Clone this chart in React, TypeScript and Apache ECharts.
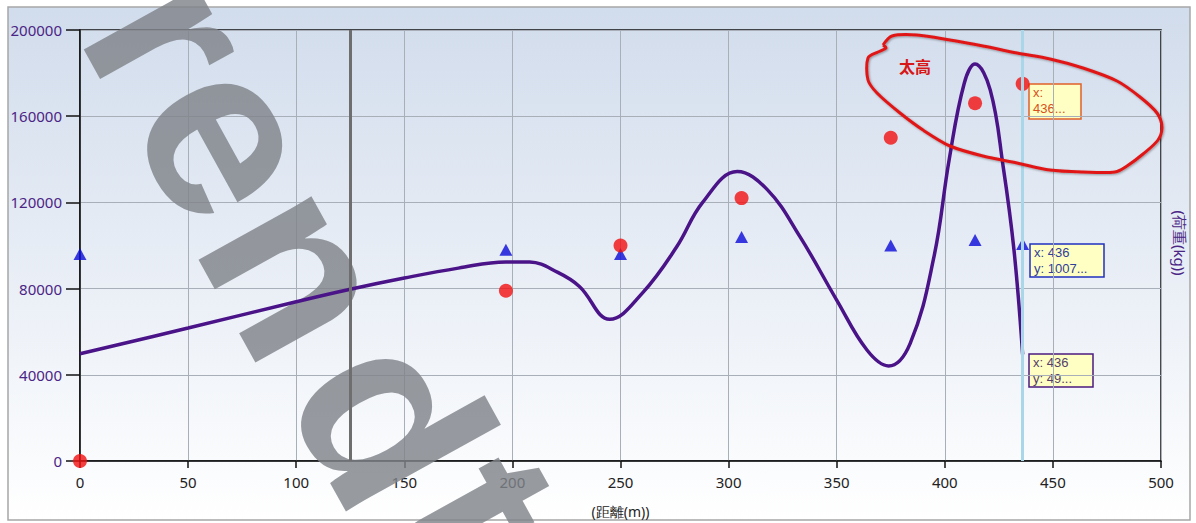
import React, { useEffect, useRef } from "react";
import * as echarts from "echarts";

// ---- data ----
const measuredX = [0, 197, 250, 306, 375, 414, 436];
const measuredY = [0, 79000, 100000, 122000, 150000, 166000, 175000];
const referenceX = [0, 197, 250, 306, 375, 414, 436];
const referenceY = [96000, 98000, 96000, 104000, 100000, 102500, 100700];
const curveX = [0, 50, 100, 125, 150, 175, 197, 208, 221, 231, 245, 260, 276, 288, 304, 318, 333, 350, 364, 374, 384, 395, 402, 409, 414, 421, 427, 432, 436];
const curveY = [49800, 61700, 73900, 79700, 84900, 89500, 92400, 92300, 87500, 81000, 65750, 77800, 99400, 120000, 134300, 125800, 104100, 74700, 51500, 44100, 54600, 94800, 139700, 175300, 184200, 172200, 136600, 97900, 49500];
const markerLineX = [125];
const cursorLineX = [436];
const xTickInterval = 50;
const yTickInterval = 40000;
const xName = "(距離(m))";
const yName = "(荷重(kg))";
const noteText = "太高";
const tipRed = ["x:", "436..."];
const tipBlue = ["x: 436", "y: 1007..."];
const tipPurple = ["x: 436", "y: 49..."];
const watermarkLetters = ["r", "e", "n", "d", "t"];

const FONT = "Noto Sans";

function tipBox(x: number, y: number, w: number, h: number, lines: string[], border: string, color: string) {
  return {
    type: "group",
    x,
    y,
    z: 30,
    children: [
      { type: "rect", shape: { x: 0, y: 0, width: w, height: h }, style: { fill: "#ffffc4", stroke: border, lineWidth: 1.5 } },
      ...lines.map((t, i) => ({
        type: "text",
        x: 4,
        y: 2 + i * 16,
        style: { text: t, fill: color, fontFamily: "Liberation Sans", fontSize: 13, textVerticalAlign: "top" },
      })),
    ],
  };
}

export default function App() {
  const ref = useRef<HTMLDivElement>(null);
  useEffect(() => {
    if (!ref.current) return;
    const chart = echarts.init(ref.current, undefined, { renderer: "svg" });
    const ellipsePts = [
      [883, 45], [892, 36], [917, 35], [950, 40], [983, 46], [1017, 53], [1050, 59], [1083, 68], [1117, 81],
      [1140, 97], [1157, 113], [1162, 127], [1158, 140], [1143, 154], [1127, 166], [1115, 172], [1083, 172],
      [1050, 170], [1017, 163], [983, 156], [950, 146], [923, 130], [900, 113], [877, 93], [868, 80], [868, 58],
      [878, 52], [886, 48],
    ];
    // watermark letter placement (page pixels)
    const letterPos = [
      [173, 35],
      [232, 137],
      [301, 269],
      [392, 419],
      [478, 512],
    ];
    const watermark = watermarkLetters.map((ch, i) => ({
      type: "text",
      z: 1,
      silent: true,
      x: letterPos[i][0],
      y: letterPos[i][1],
      rotation: (-61 * Math.PI) / 180,
      style: {
        text: ch,
        fontSize: 245,
        fontWeight: "bold",
        fontFamily: "Liberation Sans",
        fill: "#80848a",
        opacity: 0.82,
        textAlign: "center",
        textVerticalAlign: "middle",
      },
    }));
    chart.setOption({
      animation: false,
      backgroundColor: "#ffffff",
      grid: { left: 80, right: 35, top: 30, bottom: 62, show: true, borderColor: "#111", borderWidth: 1.5, backgroundColor: "transparent" },
      xAxis: {
        type: "value",
        min: 0,
        max: 500,
        interval: xTickInterval,
        name: xName,
        nameLocation: "middle",
        nameGap: 43,
        nameTextStyle: { color: "#222", fontFamily: FONT, fontSize: 14 },
        axisLine: { lineStyle: { color: "#111", width: 1.5 } },
        axisTick: { show: true, length: 7, lineStyle: { color: "#111", width: 1.5 } },
        axisLabel: { color: "#222", fontFamily: FONT, fontSize: 15, margin: 13 },
        splitLine: { show: true, lineStyle: { color: "#a9afb8", width: 1 } },
      },
      yAxis: {
        type: "value",
        min: 0,
        max: 200000,
        interval: yTickInterval,
        axisLine: { show: true, lineStyle: { color: "#111", width: 1.5 } },
        axisTick: { show: true, length: 14, lineStyle: { color: "#111", width: 1.5 } },
        axisLabel: { color: "#4b2585", fontFamily: FONT, fontSize: 15, margin: 18, formatter: (v: number) => String(v) },
        splitLine: { show: true, lineStyle: { color: "#a9afb8", width: 1 } },
      },
      graphic: [
        {
          type: "rect",
          z: -10,
          silent: true,
          shape: { x: 8, y: 7, width: 1182, height: 513 },
          style: {
            fill: new echarts.graphic.LinearGradient(0, 0, 0, 1, [
              { offset: 0, color: "#d1dcec" },
              { offset: 1, color: "#ffffff" },
            ]),
            stroke: "#a6a6a6",
            lineWidth: 1.5,
          },
        },
        ...watermark,
        {
          type: "text",
          z: 5,
          x: 1180,
          y: 243,
          rotation: -Math.PI / 2,
          style: { text: yName, fill: "#4b2585", font: `15px "${FONT}"`, textAlign: "center", textVerticalAlign: "middle" },
        },
        {
          type: "polyline",
          z: 25,
          shape: { points: ellipsePts.concat([ellipsePts[0]]), smooth: 0.3 },
          style: { stroke: "#e01818", lineWidth: 3, fill: null, shadowColor: "rgba(0,0,0,0.35)", shadowBlur: 2, shadowOffsetX: 1, shadowOffsetY: 1 },
        },
        {
          type: "text",
          z: 25,
          x: 915,
          y: 66,
          style: { text: noteText, fill: "#d81818", font: `bold 16px "Noto Sans CJK SC"`, textAlign: "center", textVerticalAlign: "middle" },
        },
        tipBox(1029, 84, 52, 35, tipRed, "#e0602a", "#d9501a"),
        tipBox(1030, 244, 74, 33, tipBlue, "#2030c0", "#30409a"),
        tipBox(1029, 354, 64, 33, tipPurple, "#4b1a80", "#55406a"),
      ],
      series: [
        {
          type: "line",
          data: curveX.map((x, i) => [x, curveY[i]]),
          smooth: 0.4,
          showSymbol: false,
          lineStyle: { color: "#4a1488", width: 3.5 },
          z: 3,
          markLine: {
            silent: true,
            symbol: ["none", "none"],
            label: { show: false },
            data: [
              ...markerLineX.map((x) => ({ xAxis: x, lineStyle: { color: "#6e6e6e", width: 3, type: "solid" } })),
              ...cursorLineX.map((x) => ({ xAxis: x, lineStyle: { color: "#a9d6e8", width: 3, type: "solid" } })),
            ],
          },
        },
        {
          type: "scatter",
          data: referenceX.map((x, i) => [x, referenceY[i]]),
          symbol: "triangle",
          symbolSize: [13, 12],
          itemStyle: { color: "#0a0ad8" },
          clip: false,
          z: 4,
        },
        {
          type: "scatter",
          data: measuredX.map((x, i) => [x, measuredY[i]]),
          symbol: "circle",
          symbolSize: 14,
          itemStyle: { color: "#f21010" },
          clip: false,
          z: 4,
        },
      ],
    });
    return () => chart.dispose();
  }, []);
  return <div ref={ref} style={{ position: "fixed", left: 0, top: 0, width: 1196, height: 523 }} />;
}
